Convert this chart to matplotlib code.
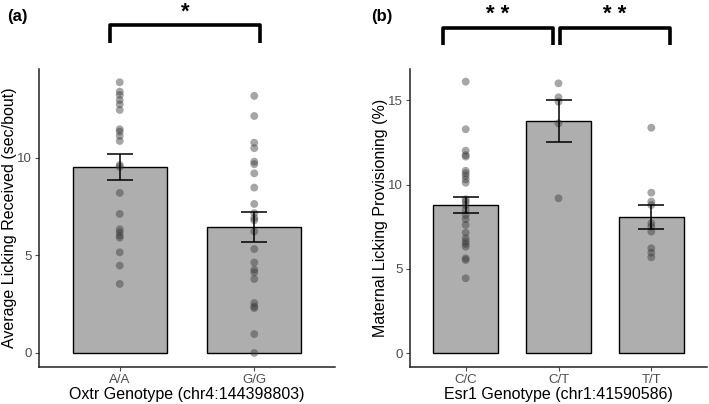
import matplotlib
matplotlib.use("Agg")
import matplotlib.pyplot as plt
from matplotlib.lines import Line2D
import matplotlib.transforms as mtransforms

plt.rcParams['font.family'] = ['Liberation Sans', 'DejaVu Sans']

# Panel (a) data
cats_a = ["A/A", "G/G"]
means_a = [9.55, 6.45]
err_lo_a = [8.87, 5.68]
err_hi_a = [10.22, 7.21]
pts_aa = [13.88, 13.40, 13.23, 12.97, 12.75, 12.46, 11.47, 11.35, 11.13, 10.87,
          9.64, 9.54, 8.21, 7.13, 6.34, 6.19, 6.02, 5.91, 5.16, 4.48, 3.54]
pts_gg = [13.18, 12.15, 10.78, 10.50, 9.81, 9.68, 9.21, 8.48, 7.64, 7.17, 6.92,
          6.80, 6.23, 5.33, 4.64, 4.27, 4.13, 3.79, 2.56, 2.38, 2.30, 0.97, 0.0]
yticks_a = [0, 5, 10]

# Panel (b) data
cats_b = ["C/C", "C/T", "T/T"]
means_b = [8.79, 13.77, 8.10]
err_lo_b = [8.34, 12.54, 7.35]
err_hi_b = [9.25, 15.02, 8.79]
pts_cc = [16.10, 13.28, 12.01, 11.75, 11.66, 10.82, 10.67, 10.51, 10.31, 10.11,
          9.13, 8.99, 8.79, 8.50, 8.20, 7.95, 7.61, 7.15, 6.82, 6.62, 6.48,
          6.32, 5.63, 5.53, 4.45]
pts_ct = [16.0, 15.17, 14.91, 13.63, 9.19]
pts_tt = [13.37, 9.52, 8.99, 8.79, 7.71, 7.51, 7.21, 6.23, 5.96, 5.69]
yticks_b = [0, 5, 10, 15]

W, H = 709, 404
fig = plt.figure(figsize=(W / 100, H / 100), dpi=100)

def px_axes(l, r, t, b):
    return fig.add_axes([l / W, 1 - b / H, (r - l) / W, (b - t) / H])

ax_a = px_axes(39, 335, 69, 367)
ax_b = px_axes(410, 707, 69, 367)

bar_col = "#AEAEAE"
pt_col = "#3A3A3A"
tick_col = "#4D4D4D"

def draw_panel(ax, cats, means, lo, hi, pts, yticks, ylim, xlabel, ylabel):
    x = list(range(1, len(cats) + 1))
    ax.bar(x, means, width=0.7, color=bar_col, edgecolor="black", linewidth=1.0, zorder=1)
    for xi, p in zip(x, pts):
        ax.scatter([xi] * len(p), p, s=32, color=pt_col, alpha=0.45,
                   edgecolors="none", zorder=2)
    for xi, m, l, h in zip(x, means, lo, hi):
        ax.errorbar([xi], [m], yerr=[[m - l], [h - m]], fmt="none", ecolor="black",
                    elinewidth=1.1, capsize=9.5, capthick=1.1, zorder=3)
    ax.set_xlim(0.4, len(cats) + 0.6)
    ax.set_ylim(*ylim)
    ax.set_xticks(x)
    ax.set_xticklabels(cats)
    ax.set_yticks(yticks)
    ax.tick_params(axis="both", colors=tick_col, labelsize=9.5, length=3, width=0.8,
                   labelcolor=tick_col, pad=2)
    for s in ["top", "right"]:
        ax.spines[s].set_visible(False)
    for s in ["left", "bottom"]:
        ax.spines[s].set_color("#222222")
        ax.spines[s].set_linewidth(1.1)
    ax.set_facecolor("white")
    ax.set_xlabel(xlabel, fontsize=11.5, labelpad=1)
    ax.set_ylabel(ylabel, fontsize=11.5, labelpad=0)

draw_panel(ax_a, cats_a, means_a, err_lo_a, err_hi_a, [pts_aa, pts_gg], yticks_a,
           (-0.72, 14.56), "Oxtr Genotype (chr4:144398803)",
           "Average Licking Received (sec/bout)")
draw_panel(ax_b, cats_b, means_b, err_lo_b, err_hi_b, [pts_cc, pts_ct, pts_tt], yticks_b,
           (-0.81, 16.85), "Esr1 Genotype (chr1:41590586)",
           "Maternal Licking Provisioning (%)")

def bracket(ax, x0, x1, ytop_px, ybot_px, label, label_px):
    tr = mtransforms.blended_transform_factory(ax.transData, fig.transFigure)
    yt = 1 - ytop_px / H
    yb = 1 - ybot_px / H
    ln = Line2D([x0, x0, x1, x1], [yb, yt, yt, yb], transform=tr, color="black",
                linewidth=2.6, solid_joinstyle="round", solid_capstyle="butt")
    fig.add_artist(ln)
    fig.text((x0 + x1) / 2, 1 - label_px / H, label, transform=tr, ha="center",
             va="center", fontsize=16, fontweight="bold")

bracket(ax_a, 0.93, 2.04, 25, 43, "*", 12)
bracket(ax_b, 0.76, 1.94, 28, 45, "* *", 14)
bracket(ax_b, 2.02, 3.20, 28, 45, "* *", 14)

fig.text(7 / W, 1 - 16 / H, "(a)", fontsize=12, fontweight="bold", va="center", ha="left")
fig.text(371 / W, 1 - 16 / H, "(b)", fontsize=12, fontweight="bold", va="center", ha="left")

fig.savefig("out.png", dpi=100)
